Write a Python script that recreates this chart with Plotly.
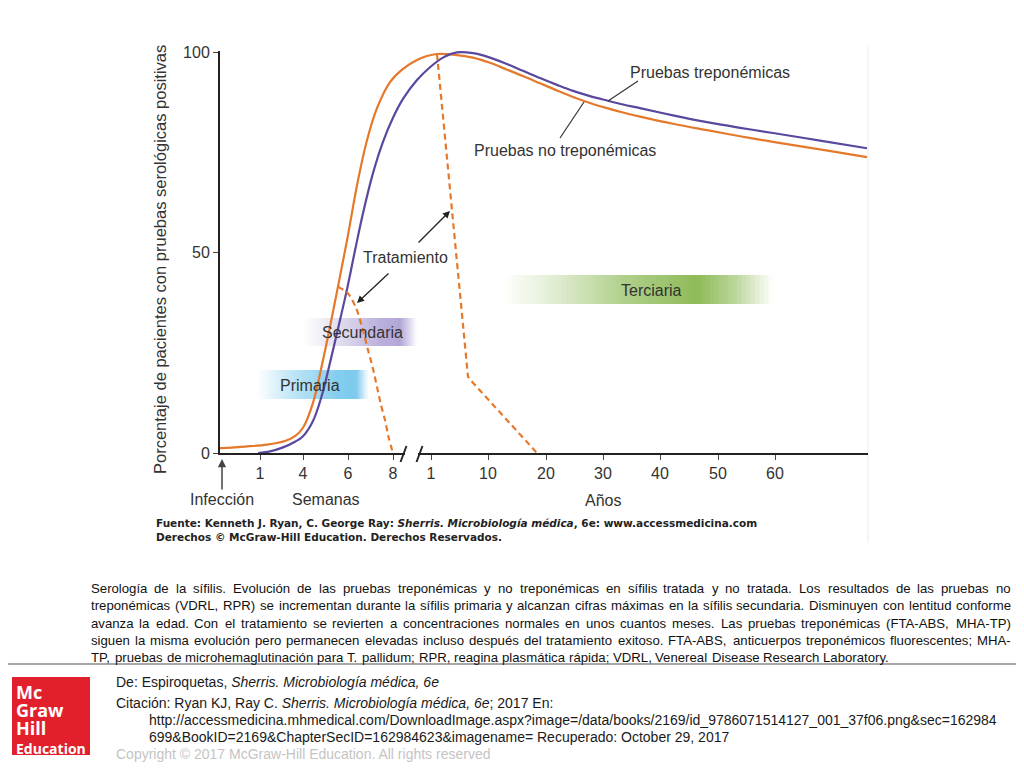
import unicodedata
import plotly.graph_objects as go

# ---------------- data ----------------
# x = position along the (broken) time axis, axis units; 0 = infection
# y = % of patients with positive serology
tick_pos = [40, 83, 128, 173, 211, 268, 326, 383, 440, 498, 555]
tick_text = ["1", "4", "6", "8", "1", "10", "20", "30", "40", "50", "60"]
y_ticks = [0, 50, 100]

x_no_trep = [0, 25, 47, 65, 75, 83, 93, 102, 110, 118, 127, 138, 147, 157, 170, 183,
             197, 207, 217, 235, 253, 270, 287, 303, 320, 337, 353, 370, 387, 403, 420,
             453, 487, 520, 553, 600, 647]
y_no_trep = [1.2, 1.6, 2.1, 3.0, 4.2, 6.3, 12.5, 22, 31.5, 41.5, 53, 68, 78, 86, 92.5,
             95.8, 98.0, 99.0, 99.5, 99.3, 98.6, 97.3, 95.6, 94.0, 92.2, 90.4, 88.8, 87.3,
             86.0, 84.9, 83.9, 82.1, 80.5, 79.0, 77.6, 75.7, 73.8]

x_trep = [38, 50, 63, 75, 83, 93, 102, 110, 118, 127, 135, 143, 153, 163, 173, 183, 197,
          210, 223, 237, 253, 270, 287, 303, 320, 337, 353, 370, 387, 403, 420, 453, 487,
          520, 553, 600, 647]
y_trep = [0, 0.4, 1.4, 2.8, 4.2, 8.0, 14.5, 22.5, 31.0, 40.8, 50.5, 59.8, 69.8, 77.6,
          83.6, 88.3, 93.0, 96.2, 98.6, 99.9, 99.7, 98.6, 97.0, 95.3, 93.5, 91.8, 90.3,
          89.0, 87.9, 86.9, 86.0, 84.2, 82.5, 81.1, 79.8, 77.9, 76.0]

x_treat_early = [118, 128, 136, 142, 148, 153, 157, 161, 165, 169, 173]
y_treat_early = [41.5, 39.8, 36.2, 31.5, 25.7, 21, 16.5, 12, 8.2, 3.5, 0]

x_treat_late = [217, 248, 253, 317]
y_treat_late = [99.5, 19, 17.5, 0]

caption_lines = [
    "Serología de la sífilis. Evolución de las pruebas treponémicas y no treponémicas en sífilis tratada y no tratada. Los resultados de las pruebas no",
    "treponémicas (VDRL, RPR) se incrementan durante la sífilis primaria y alcanzan cifras máximas en la sífilis secundaria. Disminuyen con lentitud conforme",
    "avanza la edad. Con el tratamiento se revierten a concentraciones normales en unos cuantos meses. Las pruebas treponémicas (FTA-ABS, MHA-TP)",
    "siguen la misma evolución pero permanecen elevadas incluso después del tratamiento exitoso. FTA-ABS, anticuerpos treponémicos fluorescentes; MHA-",
    "TP, pruebas de microhemaglutinación para T. pallidum; RPR, reagina plasmática rápida; VDRL, Venereal Disease Research Laboratory.",
]

# ---------------- layout helpers ----------------
# the page adds an 8px body margin, so the figure is drawn 8px smaller and all
# reference pixel positions below are in page (screenshot) coordinates
OFF = 8
W, H = 1024 - OFF, 768 - OFF
PL, PT = 220, 51          # plot area top-left in page px
PW, PH = 648, 402
X0, Y0 = PL, PT + PH      # axis origin in page px (220, 453)
ORANGE = "#E5792B"
PURPLE = "#5A489E"
TXT = "#333333"
FONT = "Liberation Sans, Arial, sans-serif"


def xp(px):
    return (px - X0) / PW


def yp(py):
    return (Y0 - py) / PH


def ann(px, py, text, size=16, color=TXT, xanchor="center", family=FONT, **kw):
    d = dict(xref="paper", yref="paper", x=xp(px), y=yp(py), text=text, showarrow=False,
             xanchor=xanchor, yanchor="middle", borderpad=0,
             font=dict(size=size, color=color, family=family))
    d.update(kw)
    return d


def seg(x0, y0, x1, y1, color="#333", width=1.2, layer="above"):
    return dict(type="line", xref="paper", yref="paper", x0=xp(x0), y0=yp(y0),
                x1=xp(x1), y1=yp(y1), line=dict(color=color, width=width), layer=layer)


def interp(stops, t):
    for (t0, a0), (t1, a1) in zip(stops, stops[1:]):
        if t0 <= t <= t1:
            return a0 + (a1 - a0) * (t - t0) / (t1 - t0)
    return stops[-1][1]


def band(x0, x1, y0, y1, rgb, stops, n=60):
    out = []
    step = (x1 - x0) / n
    for i in range(n):
        a = interp(stops, (i + 0.5) / n)
        c = [round(255 * (1 - a) + v * a) for v in rgb]
        out.append(dict(type="rect", xref="paper", yref="paper",
                        x0=xp(x0 + i * step), x1=xp(x0 + (i + 1) * step + 0.6),
                        y0=yp(y1), y1=yp(y0), fillcolor=f"rgb({c[0]},{c[1]},{c[2]})",
                        line=dict(width=0), layer="below"))
    return out


AW = {' ': 278, '!': 278, '"': 355, '#': 556, '$': 556, '%': 889, '&': 667, "'": 191,
      '(': 333, ')': 333, '*': 389, '+': 584, ',': 278, '-': 333, '.': 278, '/': 278,
      ':': 278, ';': 278, '?': 556, '@': 1015, 'A': 667, 'B': 667, 'C': 722, 'D': 722,
      'E': 667, 'F': 611, 'G': 778, 'H': 722, 'I': 278, 'J': 500, 'K': 667, 'L': 556,
      'M': 833, 'N': 722, 'O': 778, 'P': 667, 'Q': 778, 'R': 722, 'S': 667, 'T': 611,
      'U': 722, 'V': 667, 'W': 944, 'X': 667, 'Y': 667, 'Z': 611, '_': 556, 'a': 556,
      'b': 556, 'c': 500, 'd': 556, 'e': 556, 'f': 278, 'g': 556, 'h': 556, 'i': 222,
      'j': 222, 'k': 500, 'l': 222, 'm': 833, 'n': 556, 'o': 556, 'p': 556, 'q': 556,
      'r': 333, 's': 500, 't': 278, 'u': 556, 'v': 500, 'w': 722, 'x': 500, 'y': 500,
      'z': 500}


def text_w(s, size):
    tot = 0
    for ch in s:
        base = unicodedata.normalize("NFD", ch)[0]
        tot += AW.get(base, 556)
    return tot / 1000 * size


# ---------------- figure ----------------
fig = go.Figure()
fig.add_trace(go.Scatter(x=x_no_trep, y=y_no_trep, mode="lines",
                         line=dict(color=ORANGE, width=2.2, shape="spline", smoothing=1.0),
                         hoverinfo="skip"))
fig.add_trace(go.Scatter(x=x_trep, y=y_trep, mode="lines",
                         line=dict(color=PURPLE, width=2.2, shape="spline", smoothing=1.0),
                         hoverinfo="skip"))
fig.add_trace(go.Scatter(x=x_treat_early, y=y_treat_early, mode="lines",
                         line=dict(color=ORANGE, width=2.2, dash="6px,4px", shape="spline",
                                   smoothing=0.8), hoverinfo="skip"))
fig.add_trace(go.Scatter(x=x_treat_late, y=y_treat_late, mode="lines",
                         line=dict(color=ORANGE, width=2.2, dash="6px,4px"),
                         hoverinfo="skip"))

shapes = []
shapes += band(503, 773, 275, 304, (142, 187, 88),
               [(0, 0), (0.2, 0.28), (0.45, 0.7), (0.72, 1.0), (0.86, 0.6), (1, 0)])
shapes += band(303, 417, 318, 346, (178, 165, 215),
               [(0, 0), (0.3, 0.35), (0.65, 0.85), (0.85, 1.0), (1, 0)])
shapes += band(257, 367, 370, 399, (122, 201, 237),
               [(0, 0), (0.3, 0.45), (0.7, 0.9), (0.9, 1.0), (1, 0.1)])

# axis break
shapes.append(dict(type="rect", xref="paper", yref="paper", x0=xp(405), x1=xp(418),
                   y0=yp(456), y1=yp(450), fillcolor="white", line=dict(width=0),
                   layer="above"))
shapes.append(seg(400.5, 462, 406.5, 446, color="#222", width=2))
shapes.append(seg(416.5, 462, 422.5, 446, color="#222", width=2))
# leader lines
shapes.append(seg(638, 81, 608, 101))
shapes.append(seg(560, 138, 584, 102))
# image frame + separator
shapes.append(seg(868, 47, 868, 543, color="#ebebeb", width=1, layer="below"))
shapes.append(seg(OFF, 664, 1024, 664, color="#a8a8a8", width=2))
# logo box
shapes.append(dict(type="rect", xref="paper", yref="paper", x0=xp(12), x1=xp(90),
                   y0=yp(755), y1=yp(677), fillcolor="#E2202C", line=dict(width=0)))

SRC_FONT = "DejaVu Sans, Verdana, sans-serif"
LOGO_TEXT = ("<b><span style='font-size:18px'>Mc</span><br>"
             "<span style='font-size:18px'>Graw</span><br>"
             "<span style='font-size:18px'>Hill</span><br>"
             "<span style='font-size:14px'>Education</span></b>")
annotations = [
    ann(160, 260, "Porcentaje de pacientes con pruebas serológicas positivas", size=16.5,
        textangle=-90),
    ann(629, 73, "Pruebas treponémicas", xanchor="left"),
    ann(473, 150, "Pruebas no treponémicas", xanchor="left"),
    ann(405, 257, "Tratamiento"),
    ann(651, 290, "Terciaria"),
    ann(362, 332, "Secundaria"),
    ann(310, 385, "Primaria"),
    ann(222, 499, "Infección"),
    ann(326, 499, "Semanas"),
    ann(603, 500, "Años"),
    # arrows
    dict(xref="paper", yref="paper", x=xp(450), y=yp(211), ax=-33, ay=33, text="",
         showarrow=True, arrowhead=2, arrowsize=1.1, arrowwidth=1.3, arrowcolor="#222"),
    dict(xref="paper", yref="paper", x=xp(357), y=yp(303), ax=33, ay=-31, text="",
         showarrow=True, arrowhead=2, arrowsize=1.1, arrowwidth=1.3, arrowcolor="#222"),
    dict(xref="paper", yref="paper", x=xp(222), y=yp(459), ax=0, ay=32, text="",
         showarrow=True, arrowhead=2, arrowsize=1.1, arrowwidth=1.5, arrowcolor="#444"),
    # source
    ann(155, 523, "<b>Fuente: Kenneth J. Ryan, C. George Ray: <i>Sherris. Microbiología médica</i>, 6e: www.accessmedicina.com</b>",
        size=10.5, color="#222", xanchor="left", family=SRC_FONT),
    ann(155, 537, "<b>Derechos © McGraw-Hill Education. Derechos Reservados.</b>",
        size=10.5, color="#222", xanchor="left", family=SRC_FONT),
    # footer
    ann(115, 682, "De: Espiroquetas, <i>Sherris. Microbiología médica, 6e</i>", size=14,
        color="#1a1a1a", xanchor="left"),
    ann(115, 703, "Citación: Ryan KJ, Ray C. <i>Sherris. Microbiología médica, 6e</i>; 2017 En:",
        size=14, color="#1a1a1a", xanchor="left"),
    ann(148, 720, "http://accessmedicina.mhmedical.com/DownloadImage.aspx?image=/data/books/2169/id_9786071514127_001_37f06.png&amp;sec=162984",
        size=14, color="#1a1a1a", xanchor="left"),
    ann(148, 737, "699&amp;BookID=2169&amp;ChapterSecID=162984623&amp;imagename= Recuperado: October 29, 2017",
        size=14, color="#1a1a1a", xanchor="left"),
    ann(115, 754, "Copyright © 2017 McGraw-Hill Education. All rights reserved", size=14,
        color="#c4c4c4", xanchor="left"),
    # logo (one block of text so lines can sit tightly like the original)
    ann(15, 718.5, LOGO_TEXT, size=14, color="white", xanchor="left", align="left",
        family="Open Sans, sans-serif"),
]

# justified caption, word by word
CAP_SIZE = 13.2
cap_y = [588, 605.5, 623, 640, 657]
for i, line in enumerate(caption_lines):
    words = line.split(" ")
    widths = [text_w(w, CAP_SIZE) for w in words]
    if i < len(caption_lines) - 1:
        gap = (1010 - 90 - sum(widths)) / (len(words) - 1)
    else:
        gap = text_w(" ", CAP_SIZE)
    x = 90
    for w, wd in zip(words, widths):
        annotations.append(ann(x, cap_y[i], w, size=CAP_SIZE, color="#111", xanchor="left"))
        x += wd + gap

fig.update_layout(
    width=W, height=H,
    margin=dict(l=PL - OFF, r=W - (PL - OFF) - PW, t=PT - OFF, b=H - (PT - OFF) - PH, pad=0),
    paper_bgcolor="white", plot_bgcolor="white",
    showlegend=False,
    font=dict(family=FONT, color=TXT),
    shapes=shapes, annotations=annotations,
    xaxis=dict(range=[0, PW], tickvals=tick_pos, ticktext=tick_text, showgrid=False,
               zeroline=False, showline=True, linecolor="#222", linewidth=2,
               ticks="outside", ticklen=5, tickwidth=1.3, tickcolor="#444",
               tickfont=dict(size=16, color=TXT, family=FONT), fixedrange=True),
    yaxis=dict(range=[0, 100.25], tickvals=y_ticks, showgrid=False, zeroline=False,
               showline=True, linecolor="#222", linewidth=2, ticks="outside", ticklen=5,
               tickwidth=1.3, tickcolor="#444",
               tickfont=dict(size=16, color=TXT, family=FONT), fixedrange=True),
)

fig.write_html("out.html")
